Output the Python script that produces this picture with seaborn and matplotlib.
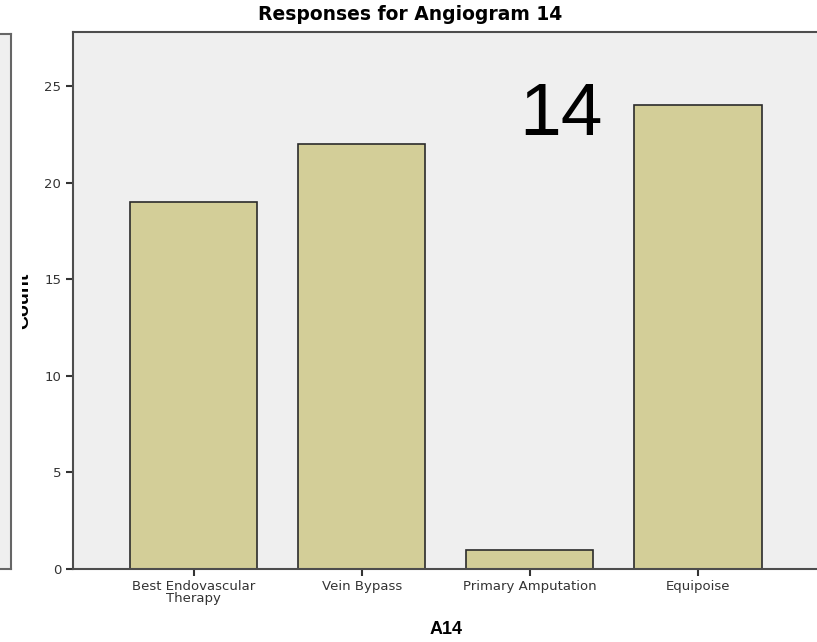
import seaborn as sns
import pandas as pd
import matplotlib.pyplot as plt
from matplotlib.patches import Rectangle

# responses for angiogram 14
categories = ["Best Endovascular\nTherapy", "Vein Bypass", "Primary Amputation", "Equipoise"]
counts = [19, 22, 1, 24]
yticks = [0, 5, 10, 15, 20, 25]

df = pd.DataFrame({"A14": categories, "Count": counts})

sns.set_style("ticks")
plt.rcParams['font.family'] = ['DejaVu Sans']

fig = plt.figure(figsize=(8.17, 6.42), dpi=100)
W, H = 817, 642

# leftover edge of the neighbouring chart
side = fig.add_axes([-20 / W, (H - 569) / H, 31 / W, 535 / H])
side.set_facecolor('#efefef')
side.set_xticks([])
side.set_yticks([])
for s in side.spines.values():
    s.set_color('#666666')
    s.set_linewidth(1.5)

ax = fig.add_axes([73 / W, (H - 569) / H, 745.5 / W, 537 / H])
ax.set_facecolor('#efefef')
sns.barplot(data=df, x="A14", y="Count", color='#d3ce98', saturation=1,
            edgecolor='#2b2b2b', linewidth=1.2, width=0.756, ax=ax)

ax.set_xlim(-0.717, 3.717)
ax.set_ylim(0, 27.8)
ax.set_yticks(yticks)
for s in ax.spines.values():
    s.set_color('#4d4d4d')
    s.set_linewidth(1.5)
ax.tick_params(direction='out', length=5, width=1.5, color='#333333',
               labelcolor='#333333', labelsize=9.5)
ax.tick_params(axis='x', pad=3)
plt.setp(ax.get_xticklabels(), linespacing=0.9)

# title sits over the whole original chart, not just this axes
fig.text(410 / W, 1 - 14 / H, "Responses for Angiogram 14", fontsize=13.5,
         fontweight='bold', color='black', ha='center', va='center')
ax.set_xlabel("A14", fontsize=13, fontweight='bold', family='Liberation Sans',
              color='black')
ax.xaxis.set_label_coords(0.5, -0.112)
ax.xaxis.label.set_va('center')
ax.set_ylabel("Count", fontsize=14, fontweight='bold', family='Liberation Sans',
              color='black')
ax.yaxis.set_label_coords(-0.0655, 0.5)
ax.yaxis.label.set_va('center')

ax.text(0.655, 0.845, "14", transform=ax.transAxes, fontsize=54,
        family='Liberation Sans', color='black', ha='center', va='center')

# the neighbouring chart hides part of the y label
fig.patches.append(Rectangle((12.5 / W, 200 / H), 9.5 / W, 250 / H,
                             transform=fig.transFigure, facecolor='white',
                             edgecolor='none', zorder=10))

fig.savefig("out.png", dpi=100)
